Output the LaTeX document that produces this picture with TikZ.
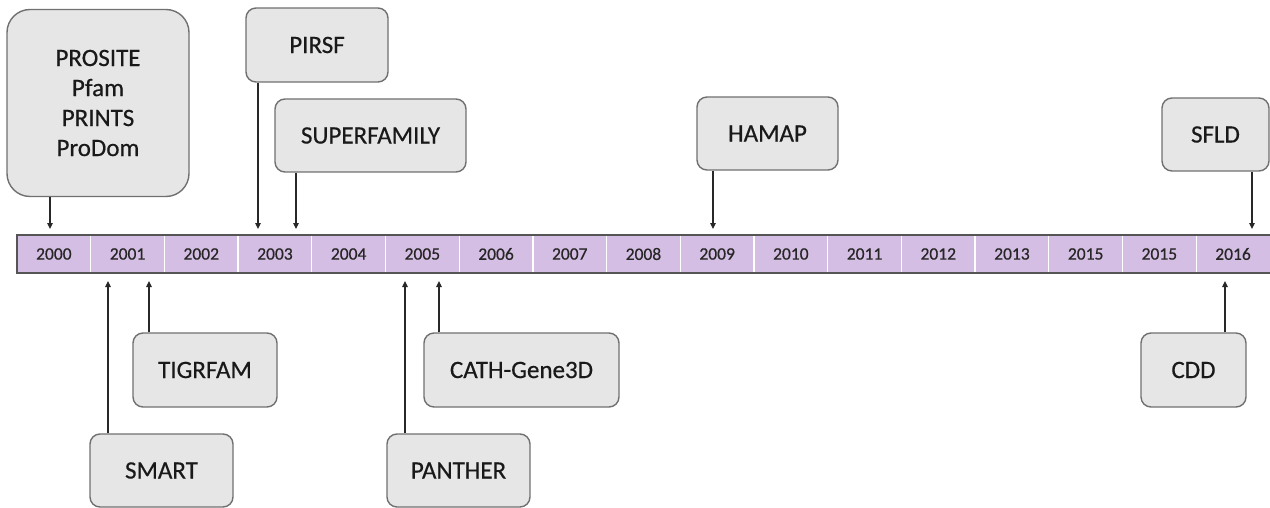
\documentclass[tikz,border=0pt]{standalone}
\usepackage{fontspec}
\setmainfont{Carlito}
\newfontfamily\heavyfont[FakeBold=0.5]{Carlito}
\usetikzlibrary{arrows.meta}
\definecolor{barfill}{RGB}{213,190,227}
\definecolor{barline}{RGB}{85,85,85}
\definecolor{boxfill}{RGB}{230,230,230}
\definecolor{boxline}{RGB}{112,112,112}
\definecolor{arrline}{RGB}{40,40,40}
\tikzset{
  dbbox/.style={draw=boxline, fill=boxfill, line width=1.4pt, rounded corners=10pt,
    inner sep=0pt, font=\heavyfont\fontsize{25}{30}\selectfont, text=black!90, align=center},
  yearlbl/.style={inner sep=0pt, font=\heavyfont\fontsize{17.5}{19}\selectfont, text=black!85},
  arr/.style={draw=arrline, line width=1.2pt, -{Triangle[width=5.5pt,length=6pt]}},
}
\begin{document}
\begin{tikzpicture}[x=1pt,y=-1pt]
\useasboundingbox (0,0) rectangle (1270,508);
% timeline bar
\fill[barfill] (17,235) rectangle (1270,273);
\foreach \i in {1,...,16} {
  \draw[white, line width=1.3pt] ({17+73.7*\i},236) -- ({17+73.7*\i},272);
}
\draw[barline, line width=2pt] (1272,235) -- (17,235) -- (17,273) -- (1272,273);
\foreach \yr [count=\i from 0] in {2000,2001,2002,2003,2004,2005,2006,2007,2008,2009,2010,2011,2012,2013,2015,2015,2016} {
  \node[yearlbl] (yr\i) at ({17+73.7*(\i+0.5)},254) {\yr};
}
% boxes above
\node[dbbox, rounded corners=23pt, minimum width=182pt, minimum height=187pt] (prosite) at (98,103) {PROSITE\\Pfam\\PRINTS\\ProDom};
\node[dbbox, minimum width=142pt, minimum height=74pt] (pirsf) at (317,45) {PIRSF};
\node[dbbox, minimum width=191pt, minimum height=73pt] (superfamily) at (370.5,135.5) {SUPERFAMILY};
\node[dbbox, minimum width=141pt, minimum height=73pt] (hamap) at (767.5,133.5) {HAMAP};
\node[dbbox, minimum width=107pt, minimum height=73pt] (sfld) at (1215.5,134.5) {SFLD};
% boxes below
\node[dbbox, minimum width=144pt, minimum height=74pt] (tigrfam) at (205,370) {TIGRFAM};
\node[dbbox, minimum width=143pt, minimum height=73pt] (smart) at (161.5,470.5) {SMART};
\node[dbbox, minimum width=195pt, minimum height=74pt] (cath) at (521.5,370) {CATH-Gene3D};
\node[dbbox, minimum width=143pt, minimum height=73pt] (panther) at (458.5,470.5) {PANTHER};
\node[dbbox, minimum width=105pt, minimum height=74pt] (cdd) at (1193.5,370) {CDD};
% arrow tips
\coordinate (tprosite) at (50,229);
\coordinate (tpirsf) at (258,229);
\coordinate (tsuper) at (296,229);
\coordinate (thamap) at (713,229);
\coordinate (tsfld) at (1252,229);
\coordinate (tsmart) at (108,281);
\coordinate (ttigr) at (149,281);
\coordinate (tpanther) at (405,281);
\coordinate (tcath) at (439,281);
\coordinate (tcdd) at (1225,281);
% arrows
\draw[arr] (prosite.south -| tprosite) -- (tprosite);
\draw[arr] (pirsf.south -| tpirsf) -- (tpirsf);
\draw[arr] (superfamily.south -| tsuper) -- (tsuper);
\draw[arr] (hamap.south -| thamap) -- (thamap);
\draw[arr] (sfld.south -| tsfld) -- (tsfld);
\draw[arr] (smart.north -| tsmart) -- (tsmart);
\draw[arr] (tigrfam.north -| ttigr) -- (ttigr);
\draw[arr] (panther.north -| tpanther) -- (tpanther);
\draw[arr] (cath.north -| tcath) -- (tcath);
\draw[arr] (cdd.north -| tcdd) -- (tcdd);
\end{tikzpicture}
\end{document}
